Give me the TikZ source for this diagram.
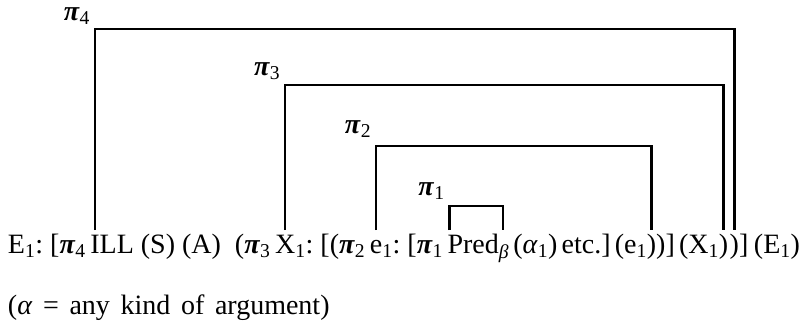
\documentclass[tikz,border=0pt]{standalone}
\usepackage{fontspec}
\setmainfont{Liberation Serif}
\newcommand\sbs[1]{\textsubscript{#1}}
\newcommand\gpi{\textbf{\textit{π}}}
\newcommand\nsp{\hspace{0.15em}}
\newcommand\wsp{\hspace{0.38em}}
\begin{document}
\begin{tikzpicture}[x=1pt,y=-1pt,
  every node/.style={font=\fontsize{28}{34}\selectfont},
  seg/.style={inner sep=0pt,outer sep=0pt,anchor=base west},
  lab/.style={inner sep=0pt,outer sep=0pt,anchor=base east},
  br/.style={line width=2.2pt,line join=miter}]
\useasboundingbox (0,0) rectangle (806,324);
% main formula, built as a chain of pieces
\node[seg] (n1) at (8,253) {E\sbs{1}:~[\gpi\sbs{4}\,};
\node[seg] (n2) at (n1.base east) {I};
\node[seg] (n3) at (n2.base east) {LL~(S)~(A)~~(\gpi\sbs{3}\,};
\node[seg] (n4) at (n3.base east) {X};
\node[seg] (n5) at (n4.base east) {\sbs{1}:~[(\gpi\sbs{2}\,};
\node[seg] (n6) at (n5.base east) {e};
\node[seg] (n7) at (n6.base east) {\sbs{1}:~[\gpi\sbs{1}\,};
\node[seg] (n8) at (n7.base east) {P};
\node[seg] (n9) at (n8.base east) {red};
\node[seg] (n10) at (n9.base east) {\sbs{\textit{β}}\nsp(\textit{α}\sbs{1})\nsp etc.]\nsp(e\sbs{1}};
\node[seg] (n11) at (n10.base east) {)};
\node[seg] (n12) at (n11.base east) {)]\nsp(X\sbs{1}};
\node[seg] (n13) at (n12.base east) {)};
\node[seg] (n14) at ([xshift=1.5pt]n13.base east) {)};
\node[seg] (n15) at (n14.base east) {]\hspace{0.2em}(E\sbs{1})};
\node[seg] (n16) at (8,314) {(\textit{α}\wsp=\wsp any\wsp kind\wsp of\wsp argument)};
% levels
\coordinate (bot) at (0,230);
\coordinate (t4) at (0,29);
\coordinate (t3) at (0,85);
\coordinate (t2) at (0,146);
\coordinate (t1) at (0,206);
\coordinate (p1) at ([xshift=2pt]n8.base west);
\coordinate (p2) at ([xshift=4pt]n9.base east);
\coordinate (c4) at (n2.base |- t4);
\coordinate (c3) at (n4.base |- t3);
\coordinate (c2) at (n6.base |- t2);
\coordinate (c1) at (p1 |- t1);
% brackets
\draw[br] (n2.base |- bot) -- (c4) -| (n14.base |- bot);
\draw[br] (n4.base |- bot) -- (c3) -| (n13.base |- bot);
\draw[br] (n6.base |- bot) -- (c2) -| (n11.base |- bot);
\draw[br] (p1 |- bot) -- (c1) -| (p2 |- bot);
% labels
\node[lab] (l4) at ([shift={(-5,-9)}]c4) {\gpi\sbs{4}};
\node[lab] (l3) at ([shift={(-5,-10)}]c3) {\gpi\sbs{3}};
\node[lab] (l2) at ([shift={(-5,-13)}]c2) {\gpi\sbs{2}};
\node[lab] (l1) at ([shift={(-5,-11)}]c1) {\gpi\sbs{1}};
\end{tikzpicture}
\end{document}
